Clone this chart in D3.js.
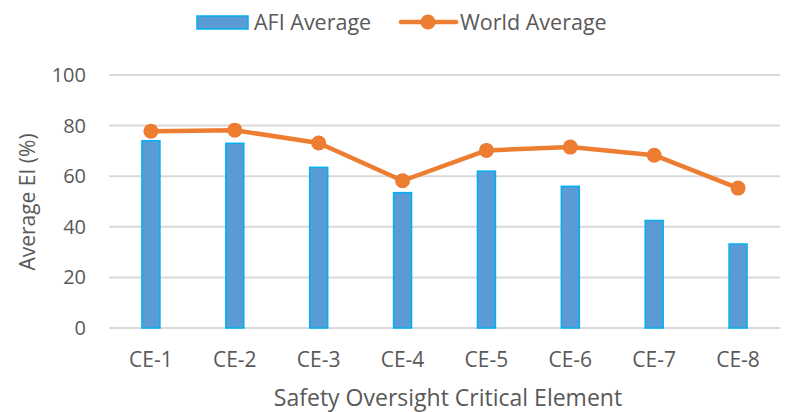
<!DOCTYPE html>
<html>
<head>
<meta charset="utf-8">
<script src="https://cdn.jsdelivr.net/npm/d3@7"></script>
<style>
  body { margin: 0; background: #fff; }
  text { font-family: "Open Sans", sans-serif; fill: #595959; }
</style>
</head>
<body>
<div id="chart"></div>
<script>
var categories = ["CE-1", "CE-2", "CE-3", "CE-4", "CE-5", "CE-6", "CE-7", "CE-8"];
var afiAverage = [74, 73, 63.5, 53.5, 62, 56, 42.5, 33.2];
var worldAverage = [77.8, 78.2, 73.1, 58.2, 70.2, 71.5, 68.3, 55.3];
var yTicks = [0, 20, 40, 60, 80, 100];

var width = 792, height = 412;
var margin = {top: 75, right: 12, bottom: 84, left: 109};

var svg = d3.select("#chart").append("svg")
    .attr("width", width)
    .attr("height", height);

var x = d3.scaleBand()
    .domain(categories)
    .range([margin.left, width - margin.right]);

var y = d3.scaleLinear()
    .domain([0, 100])
    .range([height - margin.bottom, margin.top]);

// gridlines
svg.append("g")
    .selectAll("line")
    .data(yTicks)
    .enter().append("line")
    .attr("x1", margin.left)
    .attr("x2", width - margin.right)
    .attr("y1", function(d) { return y(d); })
    .attr("y2", function(d) { return y(d); })
    .style("stroke", "#d9d9d9")
    .style("stroke-width", 2);

// y tick labels
svg.append("g")
    .selectAll("text")
    .data(yTicks)
    .enter().append("text")
    .attr("x", margin.left - 23)
    .attr("y", function(d) { return y(d); })
    .attr("dy", "0.35em")
    .attr("text-anchor", "end")
    .style("font-size", "20px")
    .text(function(d) { return d; });

// x tick labels
svg.append("g")
    .selectAll("text")
    .data(categories)
    .enter().append("text")
    .attr("x", function(d) { return x(d) + x.bandwidth() / 2; })
    .attr("y", height - margin.bottom + 39)
    .attr("text-anchor", "middle")
    .style("font-size", "21px")
    .text(function(d) { return d; });

// bars
var barW = 18;
svg.append("g")
    .selectAll("rect")
    .data(afiAverage)
    .enter().append("rect")
    .attr("x", function(d, i) { return x(categories[i]) + x.bandwidth() / 2 - barW / 2; })
    .attr("y", function(d) { return y(d); })
    .attr("width", barW)
    .attr("height", function(d) { return y(0) - y(d); })
    .style("fill", "#5b9bd5")
    .style("stroke", "#00b0f0")
    .style("stroke-width", 1.5);

// world average line
var line = d3.line()
    .x(function(d, i) { return x(categories[i]) + x.bandwidth() / 2; })
    .y(function(d) { return y(d); });

svg.append("path")
    .attr("d", line(worldAverage))
    .style("fill", "none")
    .style("stroke", "#ed7d31")
    .style("stroke-width", 4.5)
    .style("stroke-linejoin", "round");

svg.append("g")
    .selectAll("circle")
    .data(worldAverage)
    .enter().append("circle")
    .attr("cx", function(d, i) { return x(categories[i]) + x.bandwidth() / 2; })
    .attr("cy", function(d) { return y(d); })
    .attr("r", 7.5)
    .style("fill", "#ed7d31");

// axis titles
svg.append("text")
    .attr("x", 448)
    .attr("y", 406)
    .attr("text-anchor", "middle")
    .style("font-size", "23px")
    .text("Safety Oversight Critical Element");

svg.append("text")
    .attr("transform", "translate(35,202) rotate(-90)")
    .attr("text-anchor", "middle")
    .style("font-size", "21px")
    .text("Average EI (%)");

// legend
var legend = svg.append("g");
legend.append("rect")
    .attr("x", 197)
    .attr("y", 16)
    .attr("width", 51)
    .attr("height", 13)
    .style("fill", "#5b9bd5")
    .style("stroke", "#00b0f0")
    .style("stroke-width", 1.5);
legend.append("text")
    .attr("x", 254)
    .attr("y", 22)
    .attr("dy", "0.35em")
    .style("font-size", "21.5px")
    .text("AFI Average");
legend.append("line")
    .attr("x1", 401)
    .attr("x2", 456)
    .attr("y1", 22)
    .attr("y2", 22)
    .style("stroke", "#ed7d31")
    .style("stroke-width", 4.5)
    .style("stroke-linecap", "round");
legend.append("circle")
    .attr("cx", 428)
    .attr("cy", 22)
    .attr("r", 7.5)
    .style("fill", "#ed7d31");
legend.append("text")
    .attr("x", 460)
    .attr("y", 22)
    .attr("dy", "0.35em")
    .style("font-size", "21.5px")
    .text("World Average");
</script>
</body>
</html>
